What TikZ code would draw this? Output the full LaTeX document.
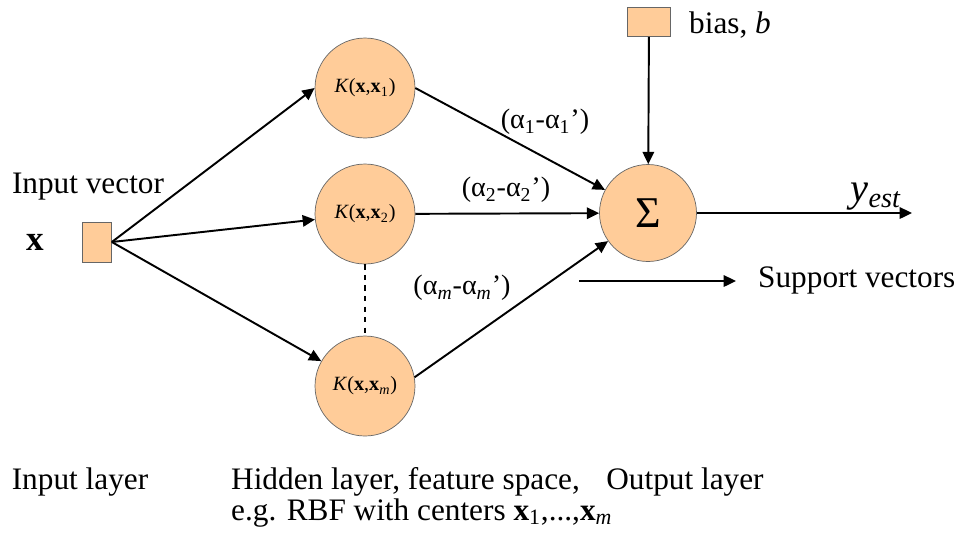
\documentclass[tikz,border=0pt]{standalone}
\usepackage{fontspec}
\setmainfont{Liberation Serif}
\usetikzlibrary{arrows.meta}
\definecolor{peach}{HTML}{FFCC99}
\begin{document}
\begin{tikzpicture}[x=0.02cm,y=-0.02cm,
    unit/.style={circle,draw=black!60,fill=peach,minimum size=2cm,inner sep=0pt,
      font=\fontsize{11.5}{13}\selectfont},
    port/.style={rectangle,draw=black!60,fill=peach,inner sep=0pt},
    link/.style={line width=1.1pt,-{Triangle[length=7pt,width=6.5pt]}},
    lbl/.style={font=\fontsize{17.8}{17.6}\selectfont},
    wgt/.style={font=\fontsize{16}{18}\selectfont}]
  \useasboundingbox (0,0) rectangle (966,532);
  % input
  \node[port,minimum width=0.58cm,minimum height=0.8cm] (in) at (97,242) {};
  \node[font=\fontsize{20}{22}\selectfont\bfseries] (xin) at (35,242) {x};
  \node[lbl,anchor=base] (invec) at (88,193) {Input vector};
  % hidden layer
  \node[unit] (h1) at (365,88) {\textit{K}(\textbf{x},\textbf{x}\textsubscript{1})};
  \node[unit] (h2) at (365,214) {\textit{K}(\textbf{x},\textbf{x}\textsubscript{2})};
  \node[unit] (h3) at (365,386) {\textit{K}(\textbf{x},\textbf{x}\textsubscript{\textit{m}})};
  \draw[dashed,line width=0.8pt] (h2) -- (h3);
  % output
  \node[unit,minimum size=1.94cm,font=\fontsize{25}{27}\selectfont] (sum) at (648,213) {Σ};
  \node[port,minimum width=0.86cm,minimum height=0.58cm] (bias) at (649,22) {};
  \node[lbl,anchor=base west] (blbl) at (683,33) {bias, \textit{b}};
  \coordinate (out) at (912,213);
  \node[font=\fontsize{23}{25}\selectfont,anchor=base] (yest) at (876,201) {\textit{y}\textsubscript{\textit{est}}};
  % connections
  \draw[link] (in.east) -- (h1.west);
  \draw[link] (in.east) -- (h2);
  \draw[link] (in.east) -- (h3);
  \draw[link] (h1.east) -- (sum);
  \draw[link] (h2) -- (sum);
  \draw[link] (h3.10) -- (sum);
  \draw[link] (bias) -- (sum);
  \draw[link] (sum) -- (out);
  % weights
  \node[wgt] (w1) at (545,122) {(α\textsubscript{1}-α\textsubscript{1}')};
  \node[wgt] (w2) at (506,190) {(α\textsubscript{2}-α\textsubscript{2}')};
  \node[wgt] (wm) at (462,288) {(α\textsubscript{\textit{m}}-α\textsubscript{\textit{m}}')};
  % support vectors
  \coordinate (sv0) at (579,281);
  \coordinate (sv1) at (736,281);
  \draw[link] (sv0) -- (sv1);
  \node[lbl,anchor=base west] (svlbl) at (752,287) {Support vectors};
  % layer names
  \node[lbl,anchor=base] (il) at (80,489) {Input layer};
  \node[lbl,anchor=base west,align=left] (hl) at (225,520)
    {Hidden layer, feature space,\\e.g. RBF with centers \textbf{x}\textsubscript{1},...,\textbf{x}\textsubscript{\textit{m}}};
  \node[lbl,anchor=base] (ol) at (685,489) {Output layer};
\end{tikzpicture}
\end{document}
